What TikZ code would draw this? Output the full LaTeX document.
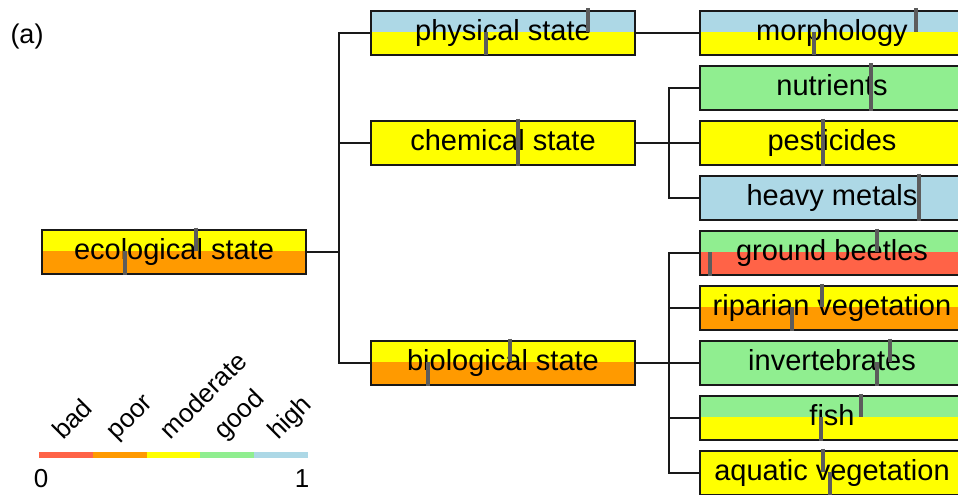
\documentclass[tikz,border=0pt]{standalone}
\usepackage{fontspec}
\setmainfont{Liberation Sans}
\usetikzlibrary{calc}

\definecolor{cbad}{HTML}{FF6347}
\definecolor{cpoor}{HTML}{FF9A00}
\definecolor{cmod}{HTML}{FFFF00}
\definecolor{cgood}{HTML}{90EE90}
\definecolor{chigh}{HTML}{ADD8E6}
\definecolor{ctick}{HTML}{5C5C5C}

% name, left, top, upper colour, lower colour, upper tick, lower tick, text
\newcommand{\indbox}[8]{%
  \fill[#4] (#2,#3) rectangle ++(\W,\H/2);
  \fill[#5] (#2,#3+\H/2) rectangle ++(\W,\H/2);
  \node[box,anchor=north west] (#1) at (#2,#3) {#8};
  \draw[needle] (#6,#3-1.5) -- (#6,#3+\H/2);
  \draw[needle] (#7,#3+\H/2) -- (#7,#3+\H+1.5);
}

\begin{document}
\begin{tikzpicture}[x=1pt,y=-1pt]

% ---------- parameters ----------
\def\W{264}
\def\H{44}
\def\seg{53.8}

% ---------- styles ----------
\tikzset{
  box/.style   ={draw=black!90,line width=2pt,inner sep=0pt,
                 minimum width=\W,minimum height=\H,
                 text height=21pt,text depth=6pt,
                 font=\fontsize{29}{34}\selectfont},
  needle/.style={draw=ctick,line width=3.2pt},
  link/.style  ={draw=black!90,line width=1.8pt},
  legtext/.style={inner sep=0pt,font=\fontsize{26}{31}\selectfont}
}

\useasboundingbox (0,0) rectangle (958,495);
\clip (0,0) rectangle (958,495);

% ---------- boxes ----------
\indbox{eco}{41}{229}{cmod}{cpoor}{196}{125}{ecological state}

\indbox{phys}{370}{10}{chigh}{cmod}{588}{486}{physical state}
\indbox{chem}{370}{120}{cmod}{cmod}{518}{518}{chemical state}
\indbox{bio}{370}{340}{cmod}{cpoor}{510}{428}{biological state}

\indbox{morph}{699}{10}{chigh}{cmod}{916}{814}{morphology}
\indbox{nut}{699}{65}{cgood}{cgood}{871}{871}{nutrients}
\indbox{pest}{699}{120}{cmod}{cmod}{823}{823}{pesticides}
\indbox{heavy}{699}{175}{chigh}{chigh}{919}{919}{heavy metals}
\indbox{beetle}{699}{230}{cgood}{cbad}{877}{710}{ground beetles}
\indbox{ripar}{699}{285}{cmod}{cpoor}{822}{792}{riparian vegetation}
\indbox{invert}{699}{340}{cgood}{cgood}{890}{877}{invertebrates}
\indbox{fish}{699}{395}{cgood}{cmod}{861}{821}{fish}
\indbox{aqua}{699}{450}{cmod}{cmod}{823}{830}{aquatic vegetation}

% ---------- connectors ----------
\foreach \t in {phys,chem,bio}
  \draw[link] (eco.east) -- ++(32,0) |- (\t.west);
\draw[link] (phys.east) -- (morph.west);
\foreach \t in {nut,pest,heavy}
  \draw[link] (chem.east) -- ++(33,0) |- (\t.west);
\foreach \t in {beetle,ripar,invert,fish,aqua}
  \draw[link] (bio.east) -- ++(33,0) |- (\t.west);

% ---------- legend ----------
\foreach \c [count=\i from 0] in {cbad,cpoor,cmod,cgood,chigh}
  \draw[\c,line width=6pt] ({39+\seg*\i},454.5) -- ({39+\seg*(\i+1)},454.5);
\foreach \lab [count=\i from 0] in {bad,poor,moderate,good,high}
  \node[legtext,rotate=45,anchor=base west] (lab\i) at ({39+\seg*\i+24},441) {\lab};
\node[legtext] (zero) at (41,479) {0};
\node[legtext] (one)  at (302,479) {1};

\node[font=\fontsize{27}{32}\selectfont] (tag) at (27,37) {(a)};

\end{tikzpicture}
\end{document}
